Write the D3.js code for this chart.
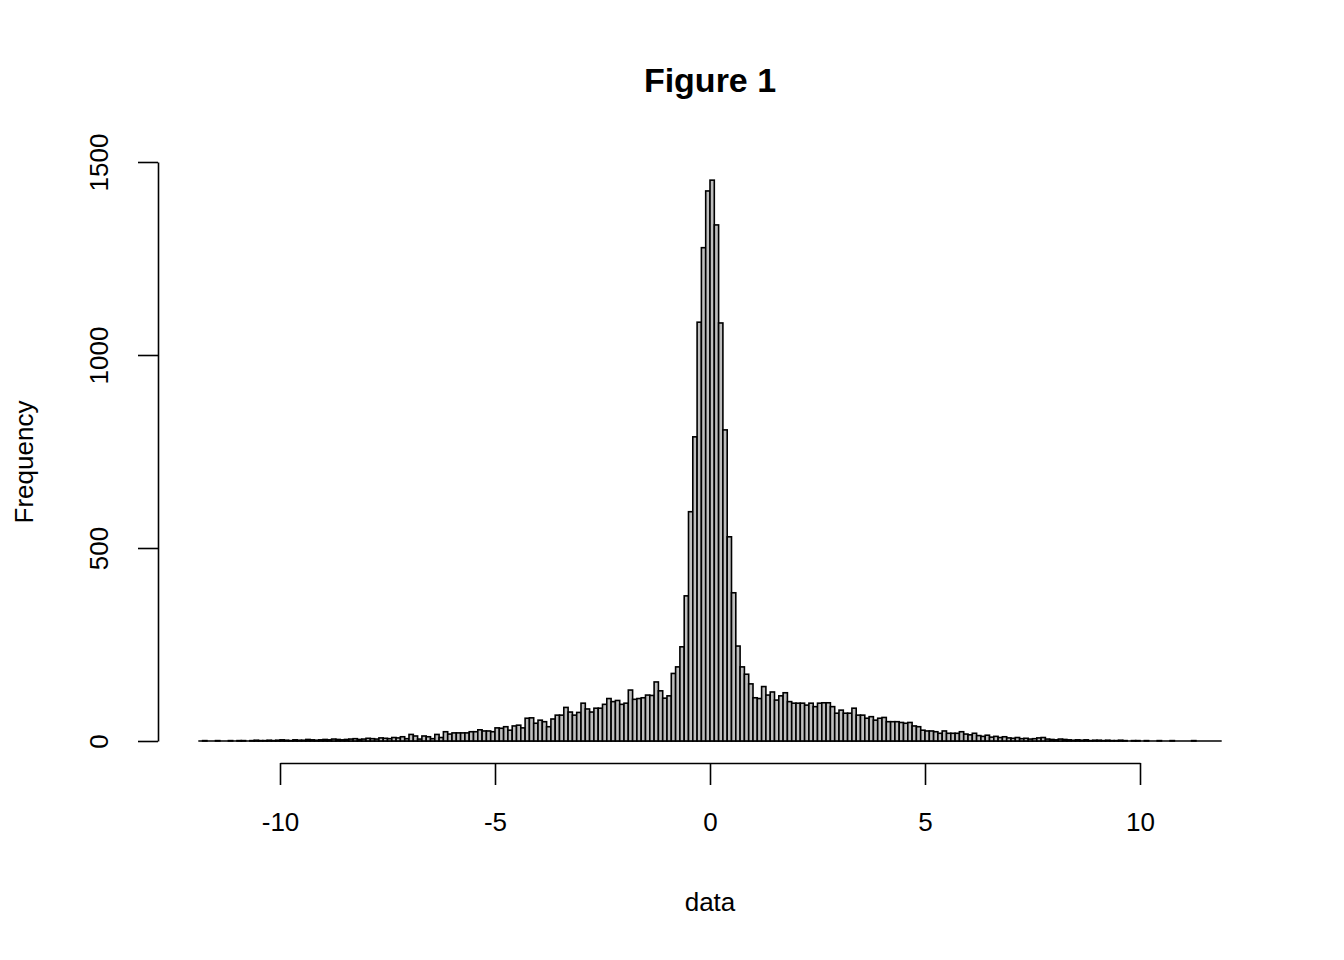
<!DOCTYPE html>
<html><head><meta charset="utf-8">
<script src="https://cdn.jsdelivr.net/npm/d3@7"></script>
<style>body{margin:0;background:#fff}text{font-family:"Liberation Sans",Arial,sans-serif}</style>
</head><body><svg id="c" width="1344" height="960"></svg>
<script>
const binStart = -11.9, binWidth = 0.1;
const leftTail = [0,1,0,0,1,0,0,1,0,1,1,0,1,2,1,1,2,1,2,3,2,1,3,2,2,4,3,2,3,4,3,5,4,3,4,5,6,4,5,7,6,5,8,7,6,9,8]; // -11.9 .. -7.3
const leftBody = [11,6,17,13,5,13,11,6,17,9,24,18,21,21,21,21,24,24,29,26,26,24,34,33,37,28,39,41,34,59,60,46,54,50,37,57,67,67,87,75,67,74,98,83,75,85,85,95,110,102,105,95,98]; // -7.2 .. -2.0
const center = [132,108,110,112,119,118,153,130,111,117,175,192,244,376,594,788,1085,1278,1425,1453,1337,1083,806,529,384,246,192,173,148,112,110,141,119,127,106,117,125]; // -1.9 .. 1.7
const rightBody = [102,98,98,98,93,98,89,98,99,99,89,72,80,72,72,85,67,67,59,63,54,59,61,50,50,50,48,46,48,39,37,28,26,26,24,20,26,20,20,20,24]; // 1.8 .. 5.8
const rightTail = [18,16,20,14,12,15,10,12,9,11,8,7,9,6,7,5,6,8,9,5,4,3,5,4,3,2,3,2,3,1,2,2,1,2,1,1,2,1,0,1,1,0,1,0,0,1,0,0,1,0,0,0,0,1,0,0,0,0,0,0]; // 5.9 .. 11.8
const counts = [...leftTail, ...leftBody, ...center, ...rightBody, ...rightTail];
const xTicks = [-10,-5,0,5,10], yTicks = [0,500,1000,1500];

const svg = d3.select("#c");
const x = d3.scaleLinear().domain([-10,10]).range([280,1140]);
const y = d3.scaleLinear().domain([0,1500]).range([741,162]);

svg.append("line").attr("x1",x(binStart)).attr("x2",x(binStart+counts.length*binWidth))
  .attr("y1",y(0)).attr("y2",y(0)).attr("stroke","#000").attr("stroke-width",1.6);
svg.append("g").selectAll("rect").data(counts.map((d,i)=>({d,i})).filter(o=>o.d>0)).join("rect")
  .attr("x", o=>x(binStart+o.i*binWidth))
  .attr("width", o=>x(binStart+(o.i+1)*binWidth)-x(binStart+o.i*binWidth))
  .attr("y", o=>y(o.d)).attr("height", o=>y(0)-y(o.d))
  .attr("fill","#bebebe").attr("stroke","#000").attr("stroke-width",1.6);

const xa = svg.append("g").attr("transform","translate(0,763)")
  .call(d3.axisBottom(x).tickValues(xTicks).tickSize(22).tickSizeOuter(0).tickFormat(d=>d<0?"-"+Math.abs(d):String(d)));
xa.select(".domain").attr("stroke-width",1.6);
xa.selectAll(".tick line").attr("stroke-width",1.6);
xa.selectAll(".tick text").attr("y",50).attr("font-size",26).attr("fill","#000");

const ya = svg.append("g").attr("transform","translate(158,0)")
  .call(d3.axisLeft(y).tickValues(yTicks).tickSize(20).tickSizeOuter(0).tickFormat(d=>String(d)));
ya.select(".domain").attr("stroke-width",1.6);
ya.selectAll(".tick line").attr("stroke-width",1.6);
ya.selectAll(".tick text").attr("font-size",26).attr("fill","#000")
  .attr("transform","rotate(-90)").attr("x",0).attr("y",-50).attr("dy",0).attr("text-anchor","middle");

svg.append("text").attr("x",710).attr("y",92).attr("text-anchor","middle").attr("font-size",34).attr("font-weight","bold").text("Figure 1");
svg.append("text").attr("x",710).attr("y",911).attr("text-anchor","middle").attr("font-size",26).text("data");
svg.append("text").attr("transform","translate(33,462) rotate(-90)").attr("text-anchor","middle").attr("font-size",26).text("Frequency");
</script></body></html>
